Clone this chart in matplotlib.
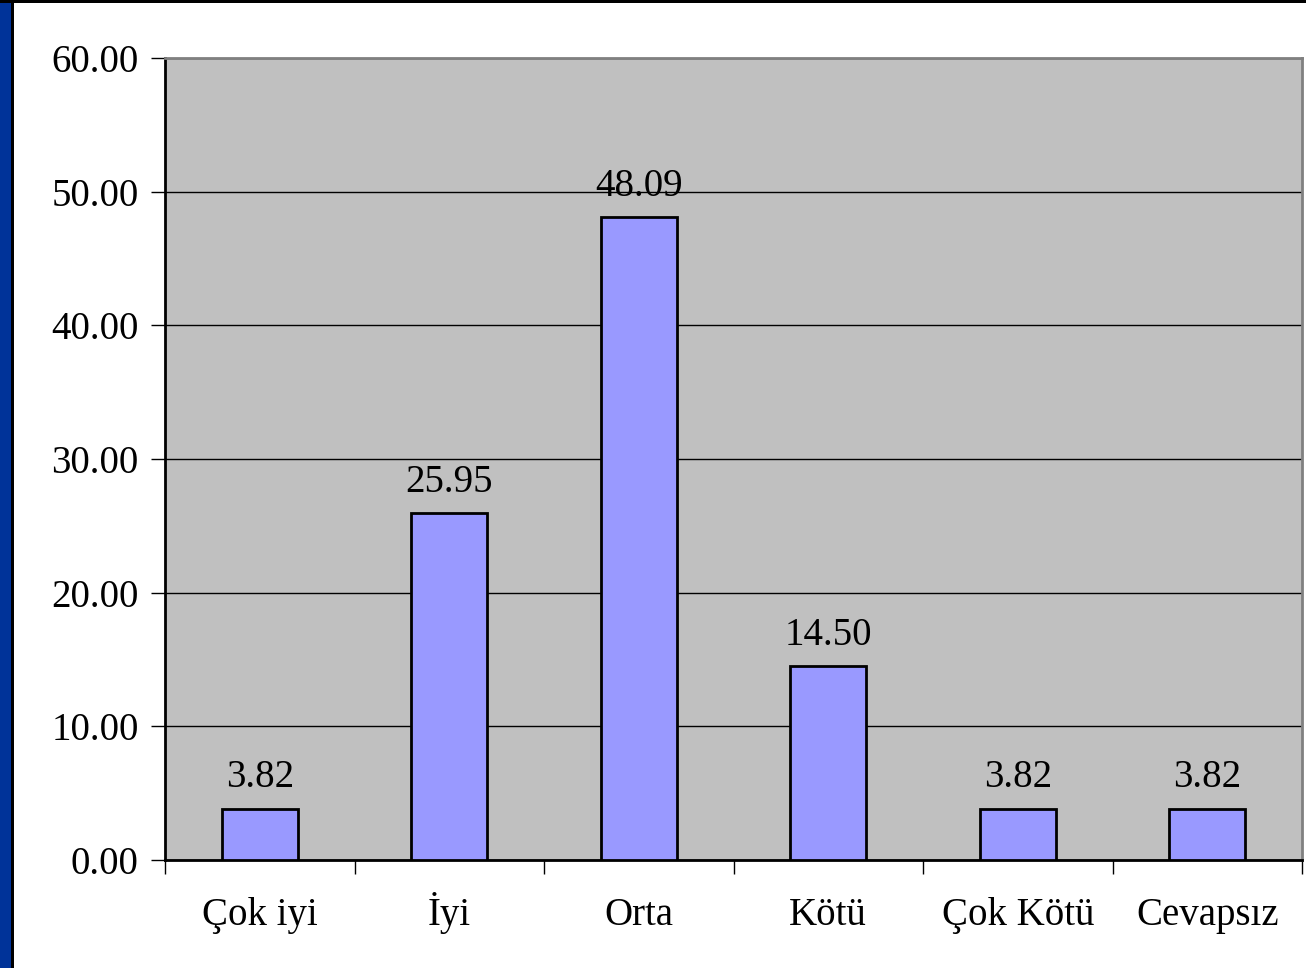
import matplotlib
matplotlib.use('Agg')
from matplotlib import pyplot as plt
from matplotlib.patches import Rectangle
import numpy as np

categories = ['Çok iyi', 'İyi', 'Orta', 'Kötü', 'Çok Kötü', 'Cevapsız']
values = [3.82, 25.95, 48.09, 14.50, 3.82, 3.82]
y_ticks = [0, 10, 20, 30, 40, 50, 60]

plt.rcParams['font.family'] = ['Liberation Serif', 'DejaVu Serif']

fig = plt.figure(figsize=(13.06, 9.68), dpi=100)
fig.patch.set_facecolor('white')

# slide decoration: blue strip on the left, black edges
fig.patches.append(Rectangle((0, 0), 11 / 1306, 1, transform=fig.transFigure,
                             facecolor='#003399', edgecolor='none', zorder=0))
fig.patches.append(Rectangle((11 / 1306, 0), 2.5 / 1306, 1, transform=fig.transFigure,
                             facecolor='black', edgecolor='none', zorder=0))
fig.patches.append(Rectangle((0, 1 - 2.5 / 968), 1, 2.5 / 968, transform=fig.transFigure,
                             facecolor='black', edgecolor='none', zorder=0))

ax = fig.add_axes([165 / 1306, 108 / 968, 1137 / 1306, 802 / 968])
ax.set_facecolor('#C0C0C0')

x = np.arange(len(categories))
ax.bar(x, values, width=0.4, color='#9999FF', edgecolor='black', linewidth=2, zorder=3)

for xi, v in zip(x, values):
    ax.annotate(f'{v:.2f}', (xi, v), xytext=(0, 9), textcoords='offset points',
                ha='center', va='bottom', fontsize=28)

ax.set_xlim(-0.5, len(categories) - 0.5)
ax.set_ylim(0, 60)
ax.set_yticks(y_ticks)
ax.set_yticklabels([f'{t:.2f}' for t in y_ticks], fontsize=28)
ax.yaxis.grid(True, color='black', linewidth=1)
ax.set_axisbelow(True)

ax.set_xticks(x)
ax.set_xticklabels(categories, fontsize=28, va='baseline')
ax.set_xticks(np.arange(-0.5, len(categories)), minor=True)
ax.tick_params(axis='x', which='major', length=0, pad=47)
ax.tick_params(axis='x', which='minor', length=10, width=1, color='black')
ax.tick_params(axis='y', length=10, width=1, pad=9)

ax.spines['left'].set_color('black')
ax.spines['bottom'].set_color('black')
ax.spines['top'].set_color('#808080')
ax.spines['right'].set_color('#808080')
for s in ax.spines.values():
    s.set_linewidth(2)

plt.savefig('out.png', dpi=100)
